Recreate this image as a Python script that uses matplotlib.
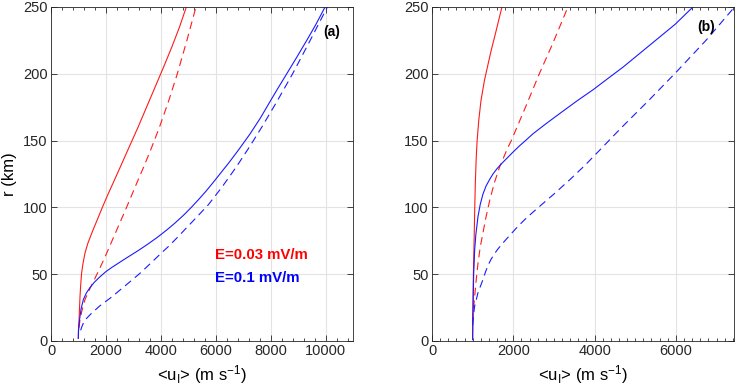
import matplotlib
matplotlib.use('Agg')
import matplotlib.pyplot as plt
from matplotlib.ticker import MultipleLocator

plt.rcParams['font.family'] = ['Liberation Sans', 'DejaVu Sans']
plt.rcParams['mathtext.fontset'] = 'custom'
plt.rcParams['mathtext.rm'] = 'Liberation Sans'
plt.rcParams['mathtext.it'] = 'Liberation Sans:italic'

# ---- panel (a): r (km) vs <u_I> (m/s) ----
a_red_solid_r = [2, 8, 15, 25, 33, 42, 51, 58, 66, 73, 81, 87, 93, 100, 110, 120, 131, 143,
                 160, 175, 190, 205, 220, 235, 250]
a_red_solid_u = [995, 1000, 1020, 1040, 1056, 1082, 1115, 1165, 1240, 1340, 1490, 1610, 1730,
                 1870, 2080, 2300, 2540, 2800, 3170, 3480, 3790, 4100, 4400, 4680, 4930]

a_red_dash_r = [10, 16, 23, 31, 38, 46, 55, 63, 72, 81, 90, 98, 106, 118, 130, 143, 160,
                180, 200, 225, 250]
a_red_dash_u = [1020, 1056, 1130, 1238, 1390, 1580, 1790, 1970, 2160, 2350, 2540, 2710, 2875,
                3120, 3370, 3630, 3950, 4290, 4600, 4950, 5280]

a_blue_solid_r = [2, 8, 16, 24, 31, 36, 40, 44, 48, 52, 55, 61, 68, 73, 78, 83, 88, 94, 100,
                  106, 112, 119, 127, 134, 143, 155, 167, 180, 190, 200, 212, 225, 237, 250]
a_blue_solid_u = [995, 1003, 1040, 1095, 1178, 1290, 1420, 1580, 1780, 2003, 2210, 2660, 3200,
                  3560, 3900, 4210, 4500, 4820, 5110, 5380, 5640, 5920, 6230, 6500, 6830, 7250,
                  7630, 8000, 8290, 8586, 8940, 9315, 9650, 9982]

a_blue_dash_r = [8, 11, 13.5, 15.7, 20, 26, 32, 40.6, 50.7, 58, 65.6, 71, 77, 85, 93, 102,
                 115, 130, 145, 160, 180, 200, 225, 250]
a_blue_dash_u = [1080, 1130, 1180, 1238, 1440, 1760, 2150, 2660, 3242, 3620, 4007, 4290, 4578,
                 4950, 5320, 5731, 6220, 6740, 7220, 7675, 8250, 8800, 9440, 10066]

# ---- panel (b) ----
b_red_solid_r = [2, 25, 50, 75, 100, 118, 135, 150, 165, 180, 195, 210, 218, 230, 240, 250]
b_red_solid_u = [1000, 1008, 1018, 1036, 1052, 1066, 1085, 1110, 1150, 1205, 1290, 1400, 1460,
                 1560, 1640, 1721]

b_red_dash_r = [15, 22, 33, 45, 58, 70, 81, 93, 105, 118, 130, 143, 150, 175, 200, 223, 250]
b_red_dash_u = [1000, 1015, 1049, 1085, 1131, 1185, 1254, 1330, 1418, 1530, 1660, 1840, 1950,
                2300, 2640, 2975, 3344]

b_blue_solid_r = [1, 18, 50, 68, 80, 93, 102, 110, 116, 121, 125, 129, 133, 137, 141, 146, 150,
                  155, 163, 172, 180, 188, 197, 205, 213, 221, 229, 237, 250]
b_blue_solid_u = [1000, 1005, 1025, 1049, 1080, 1131, 1185, 1254, 1330, 1420, 1500, 1600, 1720,
                  1850, 1980, 2150, 2300, 2480, 2820, 3220, 3580, 3960, 4350, 4700, 5020, 5340,
                  5660, 5980, 6420]

b_blue_dash_r = [12, 19, 26, 36, 46, 52, 57, 61, 65, 69, 73, 79, 86, 92, 99, 110, 121, 132,
                 143, 160, 180, 201, 225, 250]
b_blue_dash_u = [1000, 1020, 1049, 1130, 1254, 1320, 1385, 1450, 1530, 1625, 1735, 1910, 2120,
                 2320, 2580, 3000, 3400, 3780, 4130, 4670, 5330, 6000, 6740, 7443]

RED = '#ff1a1a'
BLUE = '#1a1aff'
DASH = (0, (7, 4.5))

fig = plt.figure(figsize=(7.35, 3.89), dpi=100)
ax1 = fig.add_axes([51 / 735, 1 - 341 / 389, 302 / 735, 334 / 389])
ax2 = fig.add_axes([432 / 735, 1 - 341 / 389, 302 / 735, 334 / 389])


def style_axis(ax, xmax, xmajor, xminor):
    ax.set_xlim(0, xmax)
    ax.set_ylim(0, 250)
    ax.xaxis.set_major_locator(MultipleLocator(xmajor))
    ax.xaxis.set_minor_locator(MultipleLocator(xminor))
    ax.yaxis.set_major_locator(MultipleLocator(50))
    ax.grid(True, which='major', color='#e3e3e3', linewidth=0.8)
    ax.set_axisbelow(True)
    ax.tick_params(which='both', direction='in', top=True, right=True,
                   labelsize=10.5, colors='#262626', width=0.6, pad=2.5)
    ax.tick_params(which='major', length=4)
    ax.tick_params(which='minor', length=2.2)
    for s in ax.spines.values():
        s.set_color('#262626')
        s.set_linewidth(0.6)
    ax.set_xlabel('<u$_\\mathregular{I}$> (m s$^\\mathregular{-1}$)', fontsize=12, labelpad=3)


def draw_curves(ax, rs, us, rd, ud, bs, bus, bd, bud):
    ax.plot(us, rs, color=RED, lw=0.8)
    ax.plot(ud, rd, color=RED, lw=0.8, linestyle=DASH)
    ax.plot(bus, bs, color=BLUE, lw=0.8)
    ax.plot(bud, bd, color=BLUE, lw=0.8, linestyle=DASH)


style_axis(ax1, 11000, 2000, 400)
draw_curves(ax1, a_red_solid_r, a_red_solid_u, a_red_dash_r, a_red_dash_u,
            a_blue_solid_r, a_blue_solid_u, a_blue_dash_r, a_blue_dash_u)
ax1.set_ylabel('r (km)', fontsize=12, labelpad=4)
ax1.text(9900, 231, '(a)', fontsize=10, fontweight='bold', ha='left', va='center')
ax1.text(5975, 64, 'E=0.03 mV/m', color='#ff0000', fontsize=10.8, fontweight='bold', va='center')
ax1.text(5975, 47, 'E=0.1 mV/m', color='#0000ff', fontsize=10.8, fontweight='bold', va='center')

style_axis(ax2, 7430, 2000, 200)
draw_curves(ax2, b_red_solid_r, b_red_solid_u, b_red_dash_r, b_red_dash_u,
            b_blue_solid_r, b_blue_solid_u, b_blue_dash_r, b_blue_dash_u)
ax2.text(6530, 235, '(b)', fontsize=10, fontweight='bold', ha='left', va='center')

fig.savefig('out.png', dpi=100)
